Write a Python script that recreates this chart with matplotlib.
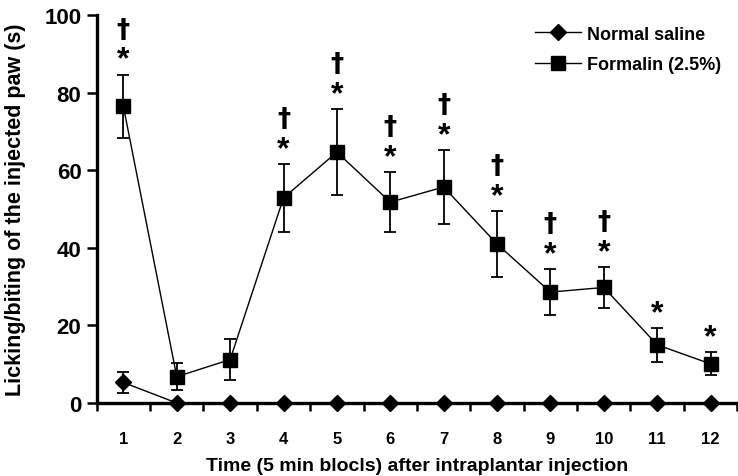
import matplotlib
matplotlib.use("Agg")
import matplotlib.pyplot as plt
from matplotlib.lines import Line2D

plt.rcParams['font.family'] = ['Liberation Sans', 'DejaVu Sans']
plt.rcParams['font.weight'] = 'bold'

blocks = [1, 2, 3, 4, 5, 6, 7, 8, 9, 10, 11, 12]
saline = [5.3, 0, 0, 0, 0, 0, 0, 0, 0, 0, 0, 0]
saline_err = [2.6, 0, 0, 0, 0, 0, 0, 0, 0, 0, 0, 0]
formalin = [76.5, 6.8, 11.2, 52.9, 64.7, 51.8, 55.7, 41.0, 28.6, 29.8, 15.0, 10.1]
formalin_err = [8.2, 3.5, 5.3, 8.7, 11.1, 7.7, 9.5, 8.5, 6.0, 5.2, 4.4, 3.0]
star_marks = ['†*', '', '', '†*', '†*', '†*', '†*', '†*', '†*', '†*', '*', '*']

fig = plt.figure(figsize=(7.38, 4.77), dpi=100)
ax = fig.add_axes([0.131, 0.153, 0.868, 0.813])

ax.errorbar(blocks, saline, yerr=saline_err,
            color='black', marker='D', markersize=8, linewidth=1.0,
            elinewidth=1.3, capsize=4.5, capthick=1.3, clip_on=False, zorder=3)
ax.errorbar(blocks, formalin, yerr=formalin_err,
            color='black', marker='s', markersize=10, linewidth=1.0,
            elinewidth=1.3, capsize=4.5, capthick=1.3, clip_on=False, zorder=4)

for x, y, e, m in zip(blocks, formalin, formalin_err, star_marks):
    top = y + e
    if '*' in m:
        ax.annotate('*', (x, top), xytext=(0, 0), textcoords='offset points',
                    ha='center', va='bottom', fontsize=23, fontweight='bold')
    if '†' in m:
        ax.annotate('†', (x, top), xytext=(0, 23), textcoords='offset points',
                    ha='center', va='bottom', fontsize=19, fontweight='bold',
                    family='DejaVu Sans')

ax.set_xlim(0.5, 12.5)
ax.set_ylim(0, 100)
ax.set_yticks([0, 20, 40, 60, 80, 100])
ax.set_xticks(blocks)
ax.set_xticks([b + 0.5 for b in range(0, 13)], minor=True)
ax.tick_params(axis='x', which='major', length=0, pad=20, labelsize=12)
ax.tick_params(axis='x', which='minor', length=6, width=1.8, direction='out')
ax.tick_params(axis='y', which='major', length=7, width=1.8, direction='out', labelsize=16, pad=4)
for lbl in ax.get_xticklabels() + ax.get_yticklabels():
    lbl.set_fontweight('bold')

for s in ['top', 'right']:
    ax.spines[s].set_visible(False)
for s in ['left', 'bottom']:
    ax.spines[s].set_linewidth(2.4)

ax.set_ylabel('Licking/biting of the injected paw (s)', fontsize=15.5, fontweight='bold', labelpad=13)
ax.set_xlabel('Time (5 min blocls) after intraplantar injection', fontsize=14, fontweight='bold', labelpad=8)

handles = [Line2D([], [], color='black', marker='D', markersize=8, linewidth=1.0),
           Line2D([], [], color='black', marker='s', markersize=10, linewidth=1.0)]
ax.legend(handles, ['Normal saline', 'Formalin (2.5%)'], loc='upper right',
          bbox_to_anchor=(1.0, 1.015), frameon=False,
          prop={'weight': 'bold', 'size': 13}, handlelength=2.6,
          labelspacing=0.75, handletextpad=0.3)

fig.savefig('out.png', dpi=100)
